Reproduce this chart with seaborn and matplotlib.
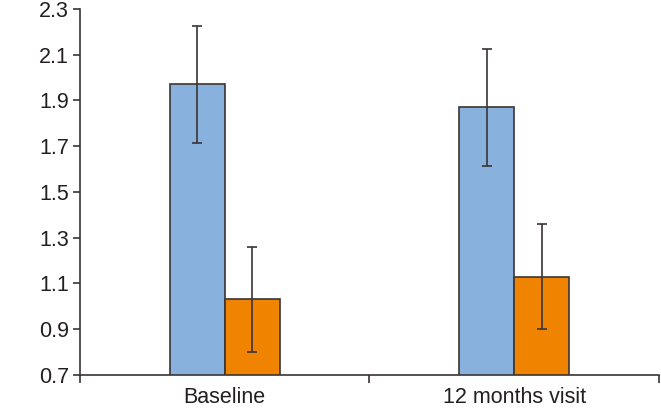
import numpy as np
import pandas as pd
import seaborn as sns
import matplotlib.pyplot as plt
from matplotlib.ticker import FixedLocator

visits = ['Baseline', '12 months visit']
groups = ['Group 1', 'Group 2']
means_g1 = [1.97, 1.87]
means_g2 = [1.03, 1.13]
err_g1 = [0.255, 0.255]
err_g2 = [0.23, 0.23]

colors = ['#88b1de', '#f08300']
edge = '#3b3535'

df = pd.DataFrame({
    'visit': visits * 2,
    'group': [groups[0]] * 2 + [groups[1]] * 2,
    'value': means_g1 + means_g2,
    'err': err_g1 + err_g2,
})

sns.set_style('white')
plt.rcParams['font.family'] = ['Liberation Sans', 'DejaVu Sans']

fig = plt.figure(figsize=(6.61, 4.08), dpi=100)
ax = fig.add_axes([0.121, 0.081, 0.876, 0.897])

sns.barplot(data=df, x='visit', y='value', hue='group', order=visits,
            hue_order=groups, palette=colors, saturation=1, width=0.38,
            errorbar=None, edgecolor=edge, linewidth=1.2, legend=False, ax=ax)

# error bars at bar centres, read from the drawn patches
for bars, g in zip(ax.containers, groups):
    sub = df[df['group'] == g].set_index('visit').loc[visits]
    xs = [b.get_x() + b.get_width() / 2 for b in bars]
    ax.errorbar(xs, sub['value'], yerr=sub['err'], fmt='none',
                ecolor=edge, elinewidth=1.2, capsize=3.6, capthick=1.2)

ax.set_ylim(0.7, 2.3)
ticks = np.arange(0.7, 2.31, 0.2)
ax.set_yticks(ticks)
ax.set_yticklabels([f'{v:.1f}' for v in ticks])
ax.set_xlim(-0.5, 1.5)
ax.set_xlabel('')
ax.set_ylabel('')

ax.xaxis.set_minor_locator(FixedLocator([-0.5, 0.5, 1.5]))
ax.tick_params(axis='x', which='major', length=0, labelsize=15.5, pad=8.5)
ax.tick_params(axis='x', which='minor', length=6, width=1.2, direction='out',
               color=edge, bottom=True)
ax.tick_params(axis='y', length=5, width=1.2, direction='out', color=edge,
               labelsize=15.5, left=True, pad=3)
for lab in ax.get_yticklabels() + ax.get_xticklabels():
    lab.set_color('#231f20')

sns.despine(ax=ax)
for s in ['left', 'bottom']:
    ax.spines[s].set_color(edge)
    ax.spines[s].set_linewidth(1.2)

fig.savefig('out.png', dpi=100)
